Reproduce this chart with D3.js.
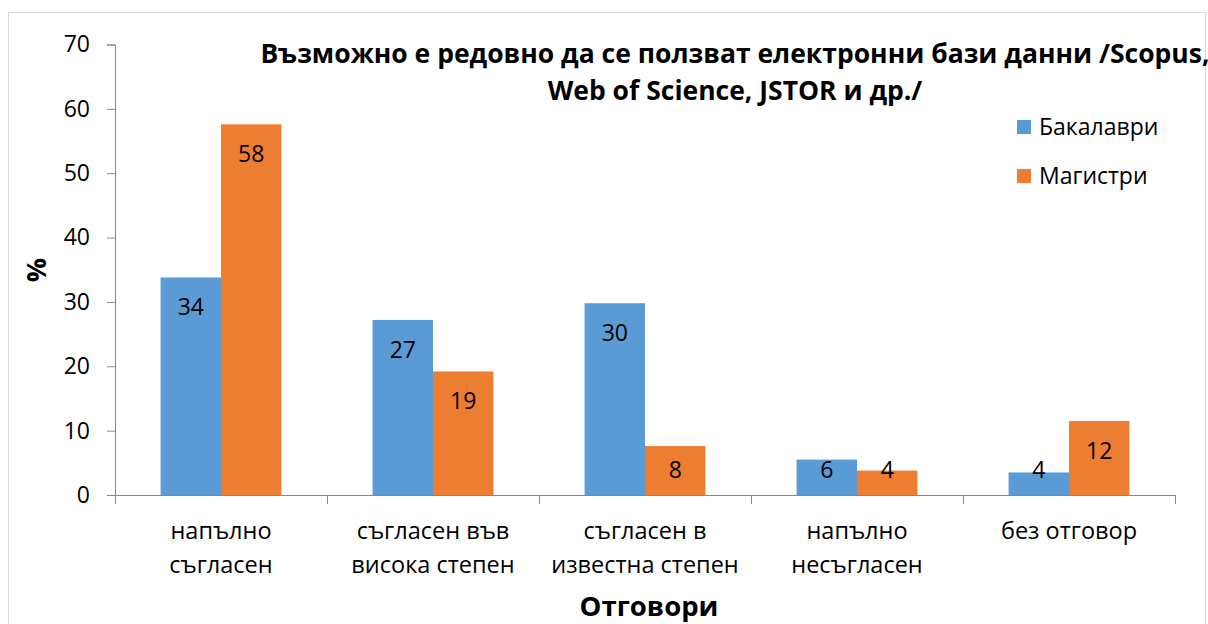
<!DOCTYPE html>
<html><head><meta charset="utf-8">
<script src="https://cdn.jsdelivr.net/npm/d3@7/dist/d3.min.js"></script>
<style>
html,body{margin:0;padding:0;background:#fff;}
text{font-family:"Open Sans",sans-serif;fill:#000;}
</style></head>
<body><svg id="chart" width="1208" height="624"></svg>
<script>
const categories = [["напълно","съгласен"],["съгласен във","висока степен"],["съгласен в","известна степен"],["напълно","несъгласен"],["без отговор"]];
const seriesNames = ["Бакалаври","Магистри"];
const bakalavri = [33.8, 27.2, 29.8, 5.5, 3.5];
const magistri = [57.6, 19.2, 7.6, 3.8, 11.5];
const bakalavriLabels = ["34","27","30","6","4"];
const magistriLabels = ["58","19","8","4","12"];
const yTicks = [0,10,20,30,40,50,60,70];
const titleLines = ["Възможно е редовно да се ползват електронни бази данни /Scopus,","Web of Science, JSTOR и др./"];
const xTitle = "Отговори";
const yTitle = "%";
const colors = ["#5B9BD5","#ED7D31"];

(function(){
const svg = d3.select("#chart");
svg.append("rect").attr("x",8.5).attr("y",12.5).attr("width",1197).attr("height",640)
  .attr("fill","#fff").attr("stroke","#d9d9d9").attr("stroke-width",1);

const pLeft=115, pRight=1175, pTop=44.5, pBottom=495;
const catIdx = categories.map((d,i)=>i);
const x = d3.scaleBand().domain(catIdx).range([pLeft,pRight]).paddingInner(0.43).paddingOuter(0.215);
const xs = d3.scaleBand().domain([0,1]).range([0,x.bandwidth()]);
const y = d3.scaleLinear().domain([0,70]).range([pBottom,pTop]);

// y axis
const yAxis = svg.append("g").attr("transform",`translate(${pLeft},0)`)
  .call(d3.axisLeft(y).tickValues(yTicks).tickSize(8).tickPadding(17));
yAxis.select(".domain").attr("stroke","#868686");
yAxis.selectAll(".tick line").attr("stroke","#868686");
yAxis.selectAll(".tick text").style("font-size","23px").attr("fill","#000");

// bars
const series = [bakalavri, magistri];
const labels = [bakalavriLabels, magistriLabels];
series.forEach((vals,s)=>{
  const g = svg.append("g");
  g.selectAll("rect").data(vals).join("rect")
    .attr("x",(d,i)=>x(i)+xs(s)).attr("width",xs.bandwidth())
    .attr("y",d=>y(d)).attr("height",d=>y(0)-y(d)).attr("fill",colors[s]);
  g.selectAll("text").data(vals).join("text")
    .attr("x",(d,i)=>x(i)+xs(s)+xs.bandwidth()/2)
    .attr("y",d=>Math.min(y(d)+29.5, y(0)-25))
    .attr("dy","0.36em").attr("text-anchor","middle").style("font-size","23px")
    .text((d,i)=>labels[s][i]);
});

// x axis
const xAxisG = svg.append("g");
xAxisG.append("line").attr("x1",pLeft).attr("x2",pRight).attr("y1",pBottom+0.5).attr("y2",pBottom+0.5).attr("stroke","#868686");
const boundaries = catIdx.map(i=>x(i)-x.step()*x.paddingInner()/2).concat([pRight]);
xAxisG.selectAll("line.tk").data(boundaries).join("line").attr("class","tk")
  .attr("x1",d=>Math.round(d)+0.5).attr("x2",d=>Math.round(d)+0.5).attr("y1",pBottom).attr("y2",pBottom+9).attr("stroke","#868686");
const catText = xAxisG.selectAll("text").data(categories).join("text")
  .attr("text-anchor","middle").style("font-size","23.5px")
  .attr("transform",(d,i)=>`translate(${x(i)+x.bandwidth()/2},539)`);
catText.selectAll("tspan").data(d=>d).join("tspan").attr("x",0).attr("y",(d,j)=>j*34).text(d=>d);

// titles
const t = svg.append("text").attr("text-anchor","middle").style("font-size","26.5px").style("font-weight","bold");
t.selectAll("tspan").data(titleLines).join("tspan").attr("x",735).attr("y",(d,j)=>63+j*37).text(d=>d);
svg.append("text").attr("x",649).attr("y",616).attr("text-anchor","middle").style("font-size","27.5px").style("font-weight","bold").text(xTitle);
svg.append("text").attr("transform","translate(46,270) rotate(-90)").attr("text-anchor","middle").style("font-size","27px").style("font-weight","bold").text(yTitle);

// legend
const lg = svg.append("g");
seriesNames.forEach((n,i)=>{
  lg.append("rect").attr("x",1017).attr("y",120+i*49).attr("width",14).attr("height",14).attr("fill",colors[i]);
  lg.append("text").attr("x",1039).attr("y",135+i*49).style("font-size","23px").text(n);
});
})();
</script></body></html>
